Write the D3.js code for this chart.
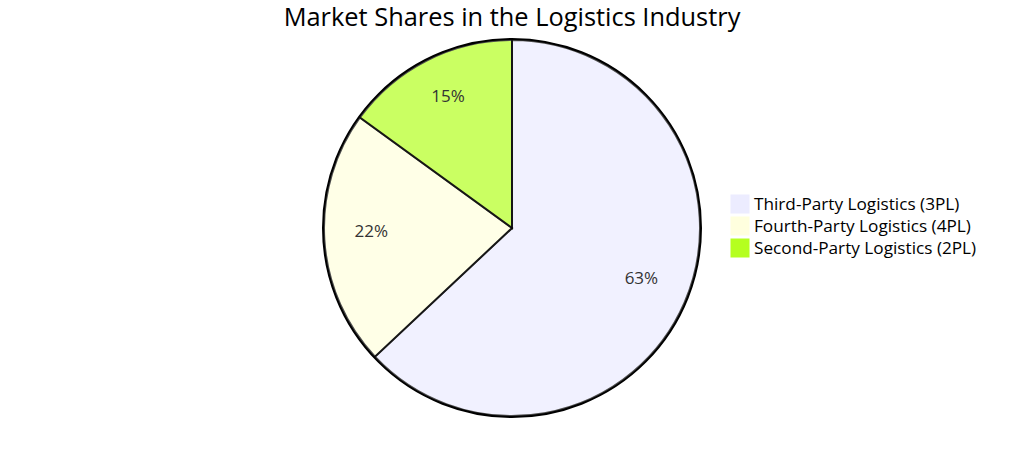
<!DOCTYPE html>
<html>
<head>
<meta charset="utf-8">
<script src="https://cdn.jsdelivr.net/npm/d3@7"></script>
<style>
  body { margin: 0; background: #fff; }
  svg { font-family: "Open Sans", sans-serif; }
</style>
</head>
<body>
<svg id="chart" width="1024" height="457"></svg>
<script>
var labels = ["Third-Party Logistics (3PL)", "Fourth-Party Logistics (4PL)", "Second-Party Logistics (2PL)"];
var shares = [63, 22, 15];
var colors = ["#ECECFF", "#ffffde", "hsl(80, 100%, 56.27%)"];

var svg = d3.select("#chart");
var cx = 512, cy = 228, radius = 188;

svg.append("text")
    .attr("x", 512)
    .attr("y", 26)
    .attr("text-anchor", "middle")
    .attr("font-size", 25.4)
    .attr("fill", "#000")
    .text("Market Shares in the Logistics Industry");

var color = d3.scaleOrdinal().domain(labels).range(colors);

var pie = d3.pie().sort(null).value(function(d, i) { return shares[i]; });
var arcs = pie(labels);

var arc = d3.arc().innerRadius(0).outerRadius(radius);
var labelArc = d3.arc().innerRadius(radius * 0.75).outerRadius(radius * 0.75);

var g = svg.append("g").attr("transform", "translate(" + cx + "," + cy + ")");

g.append("circle")
    .attr("r", radius + 1)
    .attr("fill", "none")
    .attr("stroke", "black")
    .attr("stroke-width", 2);

g.selectAll("path")
    .data(arcs)
    .enter()
    .append("path")
    .attr("d", arc)
    .attr("fill", function(d) { return color(d.data); })
    .attr("opacity", 0.7)
    .attr("stroke", "black")
    .attr("stroke-width", 2);

// labels sit on their baseline at the centroid, like mermaid does
g.selectAll("text.slice")
    .data(arcs)
    .enter()
    .append("text")
    .attr("class", "slice")
    .attr("transform", function(d) { return "translate(" + labelArc.centroid(d) + ")"; })
    .attr("text-anchor", "middle")
    .attr("font-size", 17)
    .attr("fill", "#333")
    .text(function(d, i) { return shares[i] + "%"; });

var legend = svg.selectAll("g.legend")
    .data(labels)
    .enter()
    .append("g")
    .attr("class", "legend")
    .attr("transform", function(d, i) { return "translate(731," + (195 + i * 22) + ")"; });

legend.append("rect")
    .attr("width", 18)
    .attr("height", 18)
    .attr("fill", function(d) { return color(d); })
    .attr("stroke", function(d) { return color(d); });

legend.append("text")
    .attr("x", 23)
    .attr("y", 15)
    .attr("font-size", 17.2)
    .attr("fill", "#000")
    .text(function(d) { return d; });
</script>
</body>
</html>
